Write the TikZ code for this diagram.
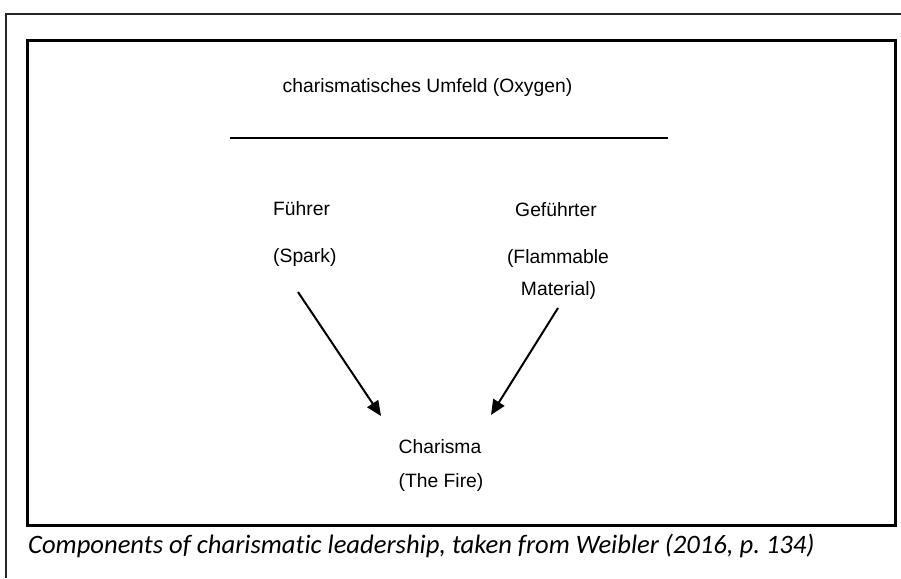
\documentclass[tikz,border=0pt]{standalone}
\usepackage{fontspec}
\setmainfont{Liberation Sans}
\newfontfamily\capfont[Ligatures=NoCommon]{Carlito}
\usetikzlibrary{arrows.meta}
\begin{document}
\begin{tikzpicture}[x=1pt,y=-1pt,
  lbl/.style={font=\fontsize{19.3}{23}\selectfont, inner sep=0pt},
  frameline/.style={line width=2pt, draw=black!85},
  boxline/.style={line width=3pt, draw=black},
  arr/.style={line width=2pt, -{Triangle[length=15pt,width=13pt]}},
  captxt/.style={font=\capfont\itshape\fontsize{26.6}{30}\selectfont, inner sep=0pt}]
\useasboundingbox (0,0) rectangle (901,578);
% outer frame
\coordinate (ofA) at (6,578);
\coordinate (ofB) at (6,14);
\coordinate (ofC) at (901,14);
\draw[frameline] (ofA) -- (ofB) -- (ofC);
% inner box
\coordinate (ibA) at (27.5,41);
\coordinate (ibB) at (895,525);
\draw[boxline] (ibA) rectangle (ibB);
% title and line
\node[lbl, anchor=base] (title) at (427.5,92) {charismatisches Umfeld (Oxygen)};
\coordinate (lnA) at (230,138);
\coordinate (lnB) at (668,138);
\draw[line width=2pt] (lnA) -- (lnB);
% left
\node[lbl, anchor=base west] (fuehrer) at (273,215) {Führer};
\node[lbl, anchor=base west] (spark) at (273,262) {(Spark)};
% right
\node[lbl, anchor=base] (gefuehrter) at (556,216) {Geführter};
\node[lbl, anchor=base] (flamm) at (558,263) {(Flammable};
\node[lbl, anchor=base] (material) at (558.5,295) {Material)};
% bottom
\node[lbl, anchor=base] (charisma) at (440,453) {Charisma};
\node[lbl, anchor=base] (fire) at (441,487) {(The Fire)};
% arrows
\coordinate (aLs) at (298,292);
\coordinate (aLe) at (381,416);
\coordinate (aRs) at (558,308);
\coordinate (aRe) at (491,415);
\draw[arr] (aLs) -- (aLe);
\draw[arr] (aRs) -- (aRe);
% caption
\node[captxt, anchor=base west] (cap) at (28,553) {Components of charismatic leadership, taken from Weibler (2016, p.~134)};
\end{tikzpicture}
\end{document}
